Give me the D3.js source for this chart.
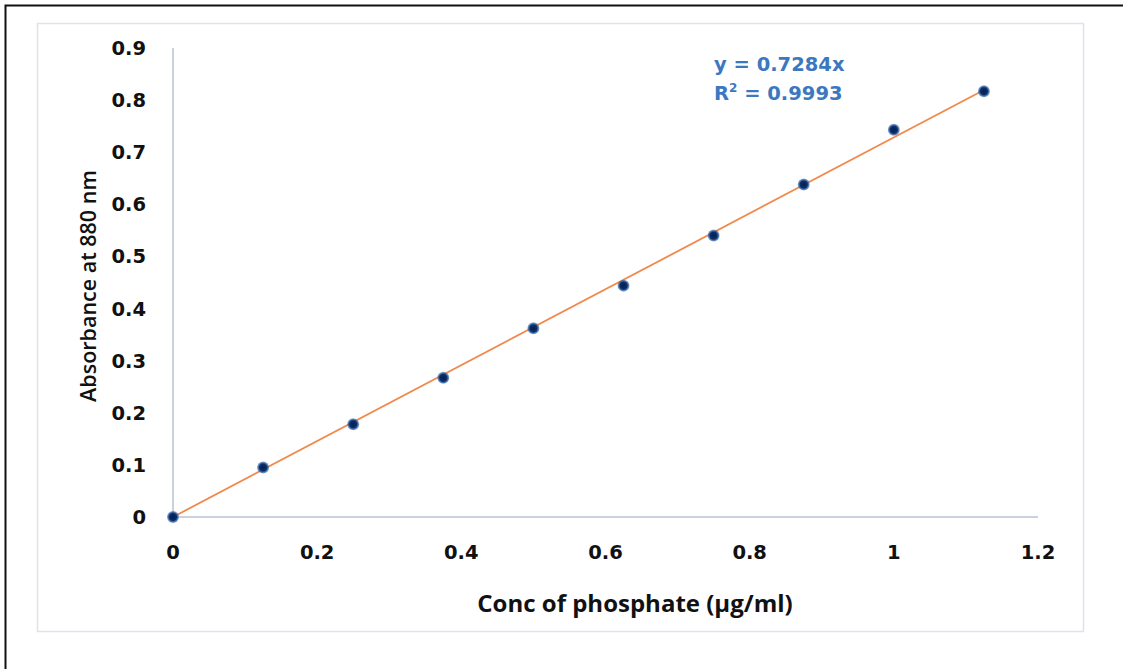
<!DOCTYPE html>
<html>
<head>
<meta charset="utf-8">
<script src="https://cdn.jsdelivr.net/npm/d3@7"></script>
<style>
  body { margin: 0; background: #fff; }
  svg { display: block; }
</style>
</head>
<body>
<div id="chart"></div>
<script>
// data
const concentration = [0, 0.125, 0.25, 0.375, 0.5, 0.625, 0.75, 0.875, 1.0, 1.125];
const absorbance = [0, 0.095, 0.178, 0.267, 0.362, 0.444, 0.540, 0.638, 0.743, 0.817];
const xTicks = [0, 0.2, 0.4, 0.6, 0.8, 1, 1.2];
const yTicks = [0, 0.1, 0.2, 0.3, 0.4, 0.5, 0.6, 0.7, 0.8, 0.9];
const slope = 0.7284;
const rSquared = '0.9993';

const width = 1123;
const height = 669;
const margin = { left: 173, right: 85, top: 48, bottom: 152 };

const svg = d3.select('#chart').append('svg')
  .attr('width', width)
  .attr('height', height);

// outer black frame (only top/left visible)
svg.append('rect')
  .attr('x', 5.5).attr('y', 5.5)
  .attr('width', width + 20).attr('height', height + 20)
  .attr('fill', 'none').attr('stroke', '#111').attr('stroke-width', 2);

// chart area border
svg.append('rect')
  .attr('x', 37.5).attr('y', 23.5)
  .attr('width', 1046).attr('height', 608)
  .attr('fill', '#fff').attr('stroke', '#dde3ec').attr('stroke-width', 1.5);

const x = d3.scaleLinear().domain([0, 1.2]).range([margin.left, width - margin.right]);
const y = d3.scaleLinear().domain([0, 0.9]).range([height - margin.bottom, margin.top]);

const tickFont = 'DejaVu Sans, Verdana, sans-serif';

// axes lines
svg.append('line')
  .attr('x1', x(0)).attr('x2', x(1.2))
  .attr('y1', y(0)).attr('y2', y(0))
  .attr('stroke', '#b8c3d4').attr('stroke-width', 1.5);
svg.append('line')
  .attr('x1', x(0)).attr('x2', x(0))
  .attr('y1', y(0)).attr('y2', y(0.9))
  .attr('stroke', '#b8c3d4').attr('stroke-width', 1.5);

svg.selectAll('text.ytick').data(yTicks).enter()
  .append('text')
  .attr('class', 'ytick')
  .attr('x', 146)
  .attr('y', (d) => y(d))
  .attr('dy', '0.36em')
  .attr('text-anchor', 'end')
  .attr('font-family', tickFont)
  .attr('font-weight', 'bold')
  .attr('font-size', '19.5px')
  .attr('fill', '#111')
  .text((d) => d);

svg.selectAll('text.xtick').data(xTicks).enter()
  .append('text')
  .attr('class', 'xtick')
  .attr('x', (d) => x(d))
  .attr('y', 552)
  .attr('dy', '0.36em')
  .attr('text-anchor', 'middle')
  .attr('font-family', tickFont)
  .attr('font-weight', 'bold')
  .attr('font-size', '19.5px')
  .attr('fill', '#111')
  .text((d) => d);

// axis titles
svg.append('text')
  .attr('x', 635).attr('y', 603)
  .attr('dy', '0.36em')
  .attr('text-anchor', 'middle')
  .attr('font-family', 'Open Sans, sans-serif')
  .attr('font-weight', 'bold')
  .attr('font-size', '24px')
  .attr('fill', '#111')
  .text('Conc of phosphate (µg/ml)');

svg.append('text')
  .attr('transform', 'translate(88,286) rotate(-90)')
  .attr('dy', '0.36em')
  .attr('text-anchor', 'middle')
  .attr('font-family', 'Open Sans, sans-serif')
  .attr('font-weight', '600')
  .attr('font-size', '21.5px')
  .attr('fill', '#111')
  .text('Absorbance at 880 nm');

// trendline through origin
const xMax = d3.max(concentration);
svg.append('line')
  .attr('x1', x(0)).attr('y1', y(0))
  .attr('x2', x(xMax)).attr('y2', y(slope * xMax))
  .attr('stroke', '#f0894a').attr('stroke-width', 1.8);

// points
const defs = svg.append('defs');
const grad = defs.append('radialGradient').attr('id', 'dot');
grad.append('stop').attr('offset', '0%').attr('stop-color', '#051f4f');
grad.append('stop').attr('offset', '60%').attr('stop-color', '#0b2f6b');
grad.append('stop').attr('offset', '100%').attr('stop-color', '#3f78c2').attr('stop-opacity', 0.6);

svg.selectAll('circle.pt').data(concentration).enter()
  .append('circle')
  .attr('class', 'pt')
  .attr('cx', (d) => x(d))
  .attr('cy', (d, i) => y(absorbance[i]))
  .attr('r', 6)
  .attr('fill', 'url(#dot)');

// equation label
const eq = svg.append('g')
  .attr('font-family', tickFont)
  .attr('font-weight', 'bold')
  .attr('font-size', '19.5px')
  .attr('fill', '#3c78c0');
eq.append('text').attr('x', 714).attr('y', 71).text(`y = ${slope}x`);
const r2 = eq.append('text').attr('x', 714).attr('y', 100);
r2.append('tspan').text('R');
r2.append('tspan').attr('font-size', '12px').attr('dy', -8).text('2');
r2.append('tspan').attr('dy', 8).text(` = ${rSquared}`);
</script>
</body>
</html>
